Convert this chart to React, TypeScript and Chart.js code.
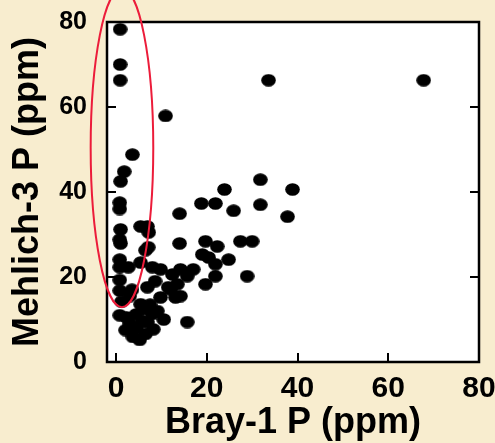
import React, { useEffect, useRef } from 'react';
import { Chart, registerables } from 'chart.js';

Chart.register(...registerables);

// Bray-1 P (ppm) values, x axis
const BRAY_P = [
  0.9, 0.9, 0.9, 10.9, 33.6, 67.8, 3.6, 1.8, 1.0, 31.8, 23.9, 38.9, 0.8, 0.8,
  18.8, 21.9, 31.8, 25.9, 14.0, 37.8,
  1.0, 5.4, 6.9, 7.2, 1.0, 0.8, 6.5, 14.0, 19.7, 22.3, 27.4, 30.0, 20.4, 24.8,
  21.9, 0.8, 0.8, 2.7, 5.4, 9.8, 14.2, 17.0, 15.7, 28.9, 21.9, 19.7, 0.8, 0.8,
  6.9, 13.5, 12.0, 9.8, 14.2, 5.4, 1.2, 0.8, 2.3, 6.0, 9.1, 6.9, 8.2, 15.7,
  2.1, 3.7, 5.2, 6.5, 5.8, 12.4, 8.0, 11.5, 13.1, 8.0, 7.1, 3.5, 19.0,
  3.0, 4.5, 7.5, 10.5, 4.4, 3.0, 8.6,
];

// Mehlich-3 P (ppm) values, y axis
const MEHLICH_P = [
  78.3, 70.0, 66.3, 57.9, 66.3, 66.3, 48.8, 44.8, 42.5, 42.9, 40.6, 40.6, 37.5, 36.0,
  37.3, 37.3, 37.0, 35.6, 34.9, 34.2,
  31.2, 31.9, 31.9, 30.5, 27.9, 28.8, 26.3, 27.9, 28.4, 27.2, 28.4, 28.4, 24.6, 24.1,
  23.0, 24.1, 22.3, 22.3, 23.4, 21.8, 21.8, 21.8, 20.2, 20.2, 20.2, 18.3, 19.3, 16.8,
  17.6, 18.3, 17.1, 15.2, 15.5, 13.6, 14.2, 11.0, 10.5, 12.4, 12.0, 9.4, 7.7, 9.4,
  7.5, 5.9, 5.2, 6.6, 9.6, 20.6, 22.3, 17.6, 15.2, 11.3, 27.0, 17.0, 25.3,
  9.0, 8.0, 13.5, 10.0, 11.2, 15.5, 19.0,
];

const X_TICKS = [0, 20, 40, 60, 80];
const Y_TICKS = [0, 20, 40, 60, 80];
const X_MIN = -2;
const X_MAX = 80;
const Y_MIN = 0;
const Y_MAX = 80;

// highlighted region (red ellipse) in data units
const HIGHLIGHT_CX = 1.3;
const HIGHLIGHT_CY = 50.4;
const HIGHLIGHT_RX = 6.9;
const HIGHLIGHT_RY = 37.5;

const X_TITLE = 'Bray-1 P (ppm)';
const Y_TITLE = 'Mehlich-3 P (ppm)';

const FONT = "'Liberation Sans', Arial, Helvetica, sans-serif";

function makeDot(): HTMLCanvasElement {
  const c = document.createElement('canvas');
  c.width = 15;
  c.height = 13;
  const g = c.getContext('2d')!;
  g.fillStyle = '#000';
  g.beginPath();
  g.ellipse(7.5, 6.5, 7.3, 6.3, 0, 0, Math.PI * 2);
  g.fill();
  return c;
}

const framePlugin = {
  id: 'frameAndHighlight',
  beforeDatasetsDraw(chart: any) {
    const { ctx, chartArea } = chart;
    const { left, top, right, bottom } = chartArea;
    ctx.save();
    ctx.fillStyle = '#ffffff';
    ctx.fillRect(left, top, right - left, bottom - top);
    ctx.restore();
  },
  afterDraw(chart: any) {
    const { ctx, chartArea, scales } = chart;
    const { left, top, right, bottom } = chartArea;
    const xs = scales.x;
    const ys = scales.y;
    ctx.save();
    ctx.strokeStyle = '#000';
    ctx.lineWidth = 2.5;
    ctx.strokeRect(left, top, right - left, bottom - top);
    ctx.beginPath();
    ctx.lineWidth = 2;
    const tl = 9;
    Y_TICKS.forEach((v) => {
      const py = Math.round(ys.getPixelForValue(v));
      ctx.moveTo(left, py);
      ctx.lineTo(left + tl, py);
      ctx.moveTo(right, py);
      ctx.lineTo(right - tl, py);
    });
    X_TICKS.forEach((v) => {
      const px = Math.round(xs.getPixelForValue(v));
      ctx.moveTo(px, bottom);
      ctx.lineTo(px, bottom - tl);
    });
    ctx.stroke();

    const cx = xs.getPixelForValue(HIGHLIGHT_CX);
    const cy = ys.getPixelForValue(HIGHLIGHT_CY);
    const rx = Math.abs(xs.getPixelForValue(HIGHLIGHT_CX + HIGHLIGHT_RX) - cx);
    const ry = Math.abs(ys.getPixelForValue(HIGHLIGHT_CY + HIGHLIGHT_RY) - cy);
    ctx.beginPath();
    ctx.ellipse(cx, cy, rx, ry, 0, 0, Math.PI * 2);
    ctx.strokeStyle = '#EC1C3A';
    ctx.lineWidth = 2;
    ctx.stroke();
    ctx.restore();
  },
};

export default function App() {
  const ref = useRef<HTMLCanvasElement | null>(null);

  useEffect(() => {
    if (!ref.current) return;
    const dot = makeDot();
    const points = BRAY_P.map((x, i) => ({ x, y: MEHLICH_P[i] }));
    const chart = new Chart(ref.current, {
      type: 'scatter',
      data: {
        datasets: [
          {
            data: points,
            pointStyle: dot as any,
            pointRadius: 7,
            pointHoverRadius: 7,
            backgroundColor: '#000',
            borderColor: '#000',
          },
        ],
      },
      options: {
        animation: false,
        responsive: false,
        events: [],
        layout: { padding: { top: 22, right: 16, left: 0, bottom: 0 } },
        plugins: {
          legend: { display: false },
          tooltip: { enabled: false },
        },
        scales: {
          x: {
            type: 'linear',
            min: X_MIN,
            max: X_MAX,
            afterBuildTicks: (s: any) => {
              s.ticks = X_TICKS.map((v) => ({ value: v }));
            },
            afterFit: (s: any) => {
              s.height = 81;
              s.paddingLeft = 0;
              s.paddingRight = 0;
            },
            grid: { display: false, drawTicks: false },
            border: { display: false },
            ticks: {
              color: '#000',
              padding: 9,
              maxRotation: 0,
              font: { family: FONT, size: 30, weight: 'bold', lineHeight: 1.2 },
            },
            title: {
              display: true,
              text: X_TITLE,
              color: '#000',
              padding: { top: 0, bottom: 2 },
              font: { family: FONT, size: 36, weight: 'bold', lineHeight: 1 },
            },
          },
          y: {
            type: 'linear',
            min: Y_MIN,
            max: Y_MAX,
            afterBuildTicks: (s: any) => {
              s.ticks = Y_TICKS.map((v) => ({ value: v }));
            },
            afterFit: (s: any) => {
              s.width = 107;
              s.paddingTop = 0;
              s.paddingBottom = 0;
            },
            grid: { display: false, drawTicks: false },
            border: { display: false },
            ticks: {
              color: '#000',
              padding: 20,
              font: { family: FONT, size: 25, weight: 'bold', lineHeight: 1.2 },
            },
            title: {
              display: true,
              text: Y_TITLE,
              color: '#000',
              padding: { top: 10, bottom: 0 },
              font: { family: FONT, size: 36, weight: 'bold', lineHeight: 1 },
            },
          },
        },
      },
      plugins: [framePlugin],
    });
    return () => chart.destroy();
  }, []);

  return (
    <div
      style={{
        position: 'fixed',
        left: 0,
        top: 0,
        width: 495,
        height: 443,
        background: '#F8EDCF',
      }}
    >
      <canvas ref={ref} width={495} height={443} style={{ display: 'block' }} />
    </div>
  );
}
